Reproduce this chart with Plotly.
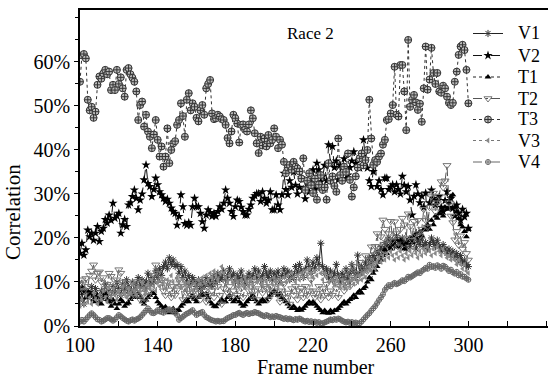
import plotly.graph_objects as go

frames = list(range(100, 301))

T3 = [55.5, 61.5, 61.8, 60.8, 51.4, 49.0, 49.8, 47.3, 48.7, 54.8,
      56.7, 56.2, 57.4, 58.2, 57.2, 57.8, 53.6, 54.8, 53.6, 58.2,
      55.0, 56.5, 54.0, 52.1, 58.2, 58.6, 57.2, 56.4, 55.5, 53.3,
      46.8, 50.2, 51.0, 45.3, 48.0, 44.2, 43.0, 40.4, 43.5, 46.8,
      42.3, 38.5, 40.8, 36.2, 38.5, 44.9, 37.0, 40.0, 41.5, 42.0,
      45.7, 46.8, 50.6, 47.7, 43.0, 51.4, 52.9, 49.0, 50.6, 49.8,
      47.3, 46.5, 49.0, 50.2, 48.0, 54.0, 55.0, 55.9, 48.3, 47.0,
      47.2, 48.0, 47.6, 47.0, 46.8, 45.7, 42.7, 41.5, 44.2, 48.0,
      47.2, 46.0, 41.7, 45.7, 45.8, 44.6, 44.2, 45.8, 49.0, 47.2,
      43.8, 41.5, 39.3, 43.0, 41.0, 42.6, 40.8, 43.4, 41.5, 42.3,
      44.9, 43.0, 40.4, 42.3, 41.2, 37.3, 34.7, 36.0, 36.6, 35.5,
      37.3, 36.2, 35.8, 35.1, 33.5, 38.1, 30.9, 33.0, 34.7, 32.0,
      30.2, 33.5, 28.7, 32.1, 34.3, 30.9, 31.5, 28.7, 37.0, 33.0,
      34.0, 31.8, 30.5, 42.6, 34.3, 33.0, 36.2, 35.0, 39.2, 33.2,
      29.4, 31.5, 34.0, 36.0, 38.1, 39.2, 36.5, 37.7, 40.0, 51.4,
      42.6, 36.6, 37.7, 37.3, 38.5, 39.2, 41.2, 42.3, 46.8, 47.0,
      48.3, 50.2, 58.9, 48.0, 47.6, 59.3, 59.3, 53.3, 44.5, 65.0,
      49.8, 51.4, 52.5, 50.8, 49.1, 50.5, 46.4, 54.0, 63.5, 53.7,
      56.0, 63.2, 57.5, 55.0, 57.5, 53.3, 53.0, 54.6, 54.0, 52.1,
      50.7, 50.2, 50.7, 55.5, 57.8, 61.6, 63.5, 63.9, 62.7, 58.2,
      50.6]

V2 = [16.5, 18.8, 16.1, 17.3, 21.8, 20.3, 21.1, 19.5, 21.1, 22.6,
      19.2, 21.5, 22.2, 24.2, 23.4, 25.2, 24.0, 27.9, 24.5, 25.0,
      25.6, 21.1, 23.0, 24.2, 22.6, 27.5, 28.0, 29.4, 30.9, 29.0,
      26.4, 28.6, 30.0, 33.2, 36.6, 32.4, 31.7, 29.4, 31.0, 33.6,
      32.1, 30.5, 29.8, 29.0, 28.3, 28.8, 27.9, 26.8, 26.0, 25.6,
      22.9, 24.9, 29.8, 27.1, 23.3, 22.9, 23.5, 22.9, 27.1, 29.0,
      27.1, 27.1, 25.6, 23.7, 22.2, 25.2, 26.4, 25.8, 24.9, 25.6,
      24.9, 26.0, 27.1, 26.5, 27.9, 30.9, 29.0, 27.9, 26.0, 24.9,
      27.1, 28.6, 28.3, 27.0, 26.0, 25.2, 25.2, 26.5, 27.5, 29.0,
      29.6, 30.1, 30.1, 28.3, 30.5, 29.0, 27.9, 28.6, 30.5, 26.4,
      26.4, 29.8, 27.5, 26.4, 29.8, 34.7, 31.0, 29.8, 33.0, 31.5,
      35.0, 32.0, 30.0, 31.5, 33.6, 31.0, 28.9, 32.5, 30.5, 33.0,
      35.5, 31.0, 37.0, 35.5, 32.8, 34.0, 36.5, 33.0, 41.2, 37.0,
      40.8, 36.0, 37.5, 33.2, 36.5, 35.9, 38.0, 33.5, 34.3, 36.0,
      37.5, 39.6, 37.0, 36.0, 35.9, 38.5, 42.3, 38.0, 35.9, 33.0,
      31.7, 35.1, 37.0, 31.7, 33.0, 31.0, 29.8, 33.6, 33.6, 31.0,
      31.6, 32.1, 30.5, 32.1, 31.0, 30.0, 34.0, 32.0, 30.5, 31.7,
      28.6, 25.2, 29.5, 32.1, 30.0, 28.0, 29.5, 27.0, 30.2, 22.6,
      28.0, 30.9, 29.0, 27.5, 28.5, 29.4, 27.0, 26.0, 28.5, 30.5,
      27.0, 29.0, 26.7, 25.0, 27.5, 25.6, 24.0, 26.5, 24.8, 25.6,
      22.2]

T2 = [9.5, 10.5, 8.0, 10.8, 9.0, 11.5, 12.5, 13.9, 10.5, 12.0,
      12.3, 10.0, 11.0, 8.5, 9.5, 12.0, 11.3, 9.0, 7.5, 10.5,
      12.8, 12.0, 10.0, 8.5, 7.0, 9.0, 6.5, 8.0, 7.0, 10.1,
      8.5, 6.0, 7.5, 5.5, 9.0, 7.0, 8.0, 10.0, 11.5, 13.9,
      12.0, 9.5, 10.5, 8.0, 7.0, 10.0, 8.2, 6.5, 9.0, 7.0,
      8.2, 10.5, 9.0, 6.0, 8.5, 7.5, 9.5, 7.0, 6.5, 8.0,
      10.0, 7.5, 6.0, 9.0, 8.0, 5.5, 7.0, 9.5, 8.0, 6.5,
      10.5, 9.0, 7.0, 5.0, 8.5, 10.0, 7.5, 9.0, 6.5, 8.0,
      9.5, 7.0, 10.0, 8.5, 6.5, 9.0, 11.0, 8.0, 7.0, 9.5,
      8.0, 6.0, 8.5, 10.0, 7.5, 9.0, 8.6, 6.0, 9.0, 7.5,
      8.0, 10.5, 7.0, 5.5, 8.0, 9.5, 6.5, 7.5, 5.0, 8.5,
      7.0, 9.0, 6.0, 8.0, 8.6, 6.5, 9.0, 7.0, 8.0, 10.5,
      8.0, 6.5, 7.5, 9.0, 6.0, 8.5, 7.0, 9.5, 6.5, 8.0,
      7.0, 10.0, 8.5, 6.5, 9.0, 11.0, 8.0, 10.0, 12.4, 9.0,
      11.0, 13.5, 10.0, 12.0, 14.5, 11.0, 13.0, 16.0, 12.5, 15.0,
      18.0, 14.0, 18.1, 21.0, 16.5, 20.3, 24.1, 22.0, 18.5, 21.0,
      23.8, 19.5, 23.7, 21.0, 18.0, 22.0, 24.5, 23.0, 20.0, 25.5,
      22.6, 19.5, 23.8, 21.0, 24.0, 20.5, 22.0, 26.5, 24.0, 22.5,
      27.0, 29.4, 30.2, 26.0, 28.0, 29.5, 32.8, 31.5, 33.0, 36.5,
      28.0, 25.0, 23.5, 19.6, 21.5, 18.4, 20.5, 17.5, 19.0, 16.5,
      15.0]

V1 = [6.0, 7.5, 5.0, 8.0, 6.5, 7.0, 9.0, 6.0, 8.5, 7.0,
      5.5, 8.0, 6.5, 9.5, 7.0, 8.0, 6.0, 9.0, 7.5, 10.0,
      8.5, 7.0, 9.5, 8.0, 10.5, 9.0, 7.5, 10.0, 8.0, 9.5,
      11.0, 9.0, 10.5, 8.5, 10.0, 12.0, 9.5, 11.0, 10.0, 12.5,
      11.0, 13.0, 11.5, 13.5, 14.5, 13.0, 15.5, 14.0, 15.0, 13.5,
      14.0, 12.0, 13.5, 11.0, 12.5, 10.0, 11.5, 9.5, 11.0, 10.0,
      9.0, 10.5, 8.5, 10.0, 9.0, 11.0, 9.5, 10.5, 9.0, 11.5,
      10.0, 12.0, 10.5, 11.0, 12.5, 10.5, 11.5, 13.0, 11.0, 12.0,
      10.0, 11.5, 10.5, 12.5, 11.0, 9.5, 11.0, 12.0, 10.5, 11.5,
      13.0, 11.0, 12.5, 10.5, 11.5, 13.5, 12.0, 11.0, 12.5, 10.5,
      12.0, 11.0, 12.5, 10.0, 11.5, 13.0, 11.5, 12.5, 10.5, 12.0,
      11.0, 13.5, 12.0, 14.0, 12.5, 11.0, 13.0, 15.0, 13.5, 12.0,
      14.5, 13.0, 15.5, 14.0, 18.8, 13.5, 12.0, 13.0, 11.0, 12.5,
      10.5, 12.0, 14.0, 11.5, 10.0, 12.0, 11.0, 13.0, 10.5, 12.0,
      14.0, 12.5, 11.0, 16.1, 12.0, 13.5, 12.5, 14.5, 13.0, 15.5,
      14.0, 16.0, 15.0, 17.0, 16.0, 18.0, 17.0, 19.0, 18.0, 20.0,
      18.5, 19.5, 18.0, 20.5, 19.0, 18.0, 20.0, 19.0, 17.5, 19.5,
      18.0, 20.0, 19.0, 17.5, 19.5, 18.5, 20.0, 18.0, 19.0, 17.5,
      18.5, 20.0, 19.0, 18.0, 19.5, 18.0, 17.0, 18.5, 17.5, 16.5,
      17.5, 16.0, 17.0, 15.5, 16.5, 15.0, 16.0, 14.5, 15.0, 14.0,
      13.5]

T1 = [8.0, 8.9, 7.5, 6.5, 8.0, 7.0, 7.4, 6.0, 5.5, 7.0,
      6.5, 5.0, 6.5, 7.4, 6.0, 5.5, 4.5, 5.9, 5.0, 4.0,
      5.0, 6.0, 5.5, 4.5, 5.0, 5.2, 6.0, 6.5, 7.0, 6.5,
      7.4, 6.5, 5.5, 5.0, 5.9, 6.5, 7.0, 7.5, 7.4, 6.5,
      5.5, 5.0, 4.5, 4.0, 4.4, 3.5, 3.0, 3.5, 4.0, 3.0,
      3.5, 3.6, 4.5, 5.0, 5.5, 6.0, 5.5, 6.5, 7.0, 6.0,
      5.5, 6.5, 7.0, 7.5, 7.0, 7.4, 6.5, 5.5, 5.0, 4.5,
      4.4, 5.0, 5.5, 6.0, 5.5, 5.5, 6.5, 7.0, 6.0, 5.5,
      5.9, 6.5, 5.5, 5.0, 4.5, 4.8, 5.5, 6.0, 6.5, 7.0,
      6.0, 5.5, 5.0, 5.5, 6.0, 5.5, 5.9, 6.5, 7.0, 7.5,
      8.0, 7.5, 7.0, 7.4, 6.5, 6.0, 5.5, 5.0, 4.4, 4.0,
      4.5, 4.0, 3.5, 4.0, 3.6, 4.0, 4.5, 5.0, 5.5, 5.0,
      5.5, 5.0, 4.5, 4.0, 3.5, 3.0, 3.5, 3.0, 2.9, 3.5,
      3.0, 3.5, 3.6, 4.0, 4.5, 5.0, 5.5, 5.0, 5.5, 6.0,
      6.3, 7.0, 6.5, 7.5, 8.0, 7.5, 8.5, 8.9, 10.0, 11.0,
      10.5, 12.0, 12.7, 13.5, 14.5, 15.0, 16.0, 17.3, 16.5, 18.0,
      17.5, 19.0, 18.5, 19.6, 18.0, 19.5, 18.5, 17.5, 18.8, 19.5,
      20.0, 19.0, 20.5, 21.0, 20.0, 21.5, 20.5, 22.0, 21.8, 23.0,
      22.0, 24.0, 23.0, 25.0, 24.5, 25.5, 26.1, 25.0, 27.0, 26.5,
      28.0, 29.4, 29.8, 27.0, 26.0, 24.5, 23.0, 22.5, 21.5, 20.3,
      22.0]

V3 = [4.5, 6.0, 5.0, 7.0, 5.5, 6.5, 5.0, 7.5, 6.0, 5.0,
      7.0, 6.0, 8.0, 6.5, 5.5, 7.5, 6.5, 8.5, 7.0, 6.0,
      8.0, 7.0, 9.0, 7.5, 6.5, 8.5, 7.5, 9.5, 8.0, 7.0,
      9.0, 8.0, 10.0, 8.5, 7.5, 9.5, 8.5, 10.5, 9.0, 8.0,
      10.0, 9.0, 11.0, 9.5, 8.5, 10.5, 9.5, 11.5, 10.0, 9.0,
      11.0, 10.0, 9.0, 10.5, 9.5, 8.5, 10.0, 9.0, 8.0, 9.5,
      8.5, 10.5, 9.5, 11.0, 10.0, 11.5, 10.5, 12.0, 11.0, 12.5,
      11.5, 10.5, 12.0, 13.5, 12.0, 11.0, 10.0, 11.5, 10.5, 9.5,
      11.0, 10.0, 9.0, 10.5, 9.5, 11.0, 10.0, 9.0, 10.5, 9.5,
      11.0, 10.0, 11.5, 10.5, 9.5, 11.0, 10.0, 9.0, 10.5, 9.5,
      11.0, 10.0, 9.0, 10.5, 9.5, 11.0, 10.0, 11.5, 10.5, 12.0,
      11.0, 10.0, 11.5, 10.5, 12.0, 11.0, 12.5, 11.5, 13.0, 12.0,
      11.0, 12.5, 11.5, 13.0, 12.0, 10.5, 12.0, 11.0, 10.0, 11.5,
      10.5, 9.5, 11.0, 10.0, 9.0, 10.5, 9.5, 8.5, 10.0, 9.0,
      10.5, 9.5, 11.0, 10.0, 11.5, 10.5, 12.0, 11.0, 12.5, 13.5,
      12.5, 14.0, 13.0, 14.5, 15.5, 14.5, 16.0, 15.0, 16.5, 15.5,
      17.0, 16.0, 15.0, 16.5, 15.5, 17.0, 16.0, 15.0, 16.5, 15.5,
      17.0, 16.0, 17.5, 16.5, 15.5, 17.0, 16.0, 17.5, 16.5, 18.0,
      17.0, 16.0, 17.5, 16.5, 18.0, 17.0, 16.0, 17.5, 16.5, 15.5,
      16.0, 15.0, 16.0, 15.0, 14.0, 15.0, 14.0, 13.0, 14.0, 12.5,
      12.0]

V4 = [1.0, 1.4, 1.0, 1.5, 2.0, 2.5, 2.9, 2.5, 2.0, 1.5,
      1.4, 1.0, 1.2, 1.5, 1.8, 1.8, 1.5, 1.2, 1.5, 2.0,
      2.5, 2.2, 1.8, 1.5, 1.2, 1.0, 1.3, 1.5, 1.2, 1.5,
      1.7, 2.0, 2.5, 3.0, 3.5, 4.0, 3.5, 3.0, 2.9, 3.2,
      3.6, 3.3, 3.2, 3.0, 3.4, 3.6, 3.8, 3.5, 3.6, 3.0,
      2.5, 1.4, 1.8, 2.1, 2.5, 2.8, 3.0, 3.3, 3.6, 3.0,
      2.5, 2.8, 3.0, 3.2, 2.5, 2.0, 1.8, 1.5, 1.3, 1.2,
      1.0, 1.2, 1.0, 1.1, 1.1, 1.5, 1.8, 2.0, 2.2, 2.5,
      2.5, 2.8, 3.0, 2.7, 2.5, 2.8, 3.0, 2.7, 2.9, 2.9,
      3.2, 3.0, 2.9, 2.6, 2.4, 2.2, 2.5, 2.3, 2.0, 2.2,
      2.0, 2.3, 2.1, 2.0, 1.8, 1.6, 1.8, 1.5, 1.7, 1.5,
      1.3, 1.6, 1.4, 1.7, 1.5, 1.2, 1.0, 1.2, 0.9, 1.1,
      0.8, 1.0, 0.7, 0.9, 0.6, 0.6, 0.8, 1.0, 1.2, 1.5,
      1.3, 1.6, 1.4, 1.7, 1.5, 1.2, 1.0, 0.8, 1.0, 0.7,
      0.9, 0.6, 0.8, 0.6, 0.6, 1.0, 1.5, 2.0, 2.5, 2.9,
      3.5, 4.0, 4.5, 5.2, 5.9, 6.5, 7.2, 8.2, 8.8, 9.3,
      9.0, 9.5, 9.8, 9.5, 9.7, 10.0, 10.4, 10.2, 10.6, 11.2,
      11.0, 11.3, 11.6, 11.9, 12.2, 12.0, 12.5, 12.8, 13.2, 13.0,
      13.9, 13.4, 13.6, 13.2, 13.8, 13.5, 13.0, 13.7, 13.5, 13.0,
      12.5, 12.8, 12.2, 11.9, 12.3, 11.5, 11.8, 11.2, 11.2, 10.8,
      10.5]

series_names = ["V1", "V2", "T1", "T2", "T3", "V3", "V4"]
x_labels = [100, 140, 180, 220, 260, 300]
y_labels = [0, 10, 20, 30, 40, 50, 60]
y_label_text = [f"{v}%" for v in y_labels]

FONT = "Liberation Serif, Times New Roman, serif"

styles = {
    "V1": (dict(symbol="asterisk-open", size=6, color="#333", line=dict(color="#333", width=1)), dict(color="#222", width=1, dash="solid")),
    "V2": (dict(symbol="star", size=7, color="black", line=dict(width=0)), dict(color="#111", width=1, dash="dash")),
    "T1": (dict(symbol="triangle-up", size=6, color="black", line=dict(width=0)), dict(color="#222", width=1, dash="dot")),
    "T2": (dict(symbol="triangle-down-open", size=7, color="#777", line=dict(color="#777", width=1)), dict(color="#555", width=1, dash="dashdot")),
    "T3": (dict(symbol="circle-cross", size=7, color="#bbb", line=dict(color="#333", width=1)), dict(color="#333", width=1, dash="dot")),
    "V3": (dict(symbol="triangle-left", size=5, color="#888", line=dict(width=0)), dict(color="#777", width=1, dash="dot")),
    "V4": (dict(symbol="circle-cross-open", size=5, color="#666", line=dict(color="#666", width=1)), dict(color="#666", width=1, dash="dash")),
}
data = {"V1": V1, "V2": V2, "T1": T1, "T2": T2, "T3": T3, "V3": V3, "V4": V4}

fig = go.Figure()
for name in series_names:
    mk, ln = styles[name]
    fig.add_trace(go.Scatter(x=frames, y=data[name], name=name, mode="lines+markers",
                             marker=mk, line=ln, showlegend=False))

# manual legend on an overlay axis spanning the plot area (0..1 both ways)
leg_y_px = [33.5, 55.5, 77, 98.5, 119.5, 140.5, 162]
plot_top, plot_bottom, plot_left, plot_w = 10, 326, 80, 468
x0 = (473 - plot_left) / plot_w
x1 = (503 - plot_left) / plot_w
xm = (x0 + x1) / 2
xt = (516 - plot_left) / plot_w
annotations = []
for name, yp in zip(series_names, leg_y_px):
    mk, ln = styles[name]
    yy = (plot_bottom - yp) / (plot_bottom - plot_top)
    fig.add_trace(go.Scatter(x=[x0, x1], y=[yy, yy], mode="lines", line=ln,
                             xaxis="x2", yaxis="y2", showlegend=False, hoverinfo="skip"))
    fig.add_trace(go.Scatter(x=[xm], y=[yy], mode="markers", marker=mk,
                             xaxis="x2", yaxis="y2", showlegend=False, hoverinfo="skip"))
    annotations.append(dict(text=name, x=xt, y=yy, xref="paper", yref="paper",
                            xanchor="left", yanchor="middle", showarrow=False,
                            font=dict(family=FONT, size=18, color="black")))

annotations.append(dict(text="Race 2", x=(310 - 80) / 468, y=(326 - 34) / 316,
                        xref="paper", yref="paper", xanchor="center", yanchor="middle",
                        showarrow=False, font=dict(family=FONT, size=17, color="black")))
annotations.append(dict(text="Frame number", x=(316 - 80) / 468, y=(326 - 367) / 316,
                        xref="paper", yref="paper", xanchor="center", yanchor="middle",
                        showarrow=False, font=dict(family=FONT, size=20, color="black")))
annotations.append(dict(text="Correlation", x=(13 - 80) / 468, y=(326 - 212) / 316,
                        xref="paper", yref="paper", xanchor="center", yanchor="middle",
                        textangle=-90, showarrow=False,
                        font=dict(family=FONT, size=21, color="black")))

fig.update_layout(
    width=548, height=379,
    margin=dict(l=80, r=0, t=10, b=53, autoexpand=False),
    paper_bgcolor="white", plot_bgcolor="white",
    font=dict(family=FONT, size=20, color="black"),
    showlegend=False,
    annotations=annotations,
    xaxis2=dict(overlaying="x", range=[0, 1], visible=False, fixedrange=True),
    yaxis2=dict(overlaying="y", range=[0, 1], visible=False, fixedrange=True),
)
fig.layout.xaxis.update(range=[100, 341], tickvals=x_labels, ticks="inside", ticklen=5,
                        tickcolor="black", showline=True, linecolor="black", linewidth=1.5,
                        mirror=True, showgrid=False, zeroline=False, automargin=False,
                        minor=dict(dtick=20, tick0=100, ticks="inside", ticklen=5, tickcolor="black"),
                        tickfont=dict(family=FONT, size=20))
fig.layout.yaxis.update(range=[0, 71.8], tickvals=y_labels, ticktext=y_label_text,
                        ticks="outside", ticklen=4, tickcolor="black", showline=True,
                        linecolor="black", linewidth=1.5, showgrid=False, zeroline=False,
                        automargin=False,
                        minor=dict(dtick=5, ticks="outside", ticklen=3, tickcolor="black"),
                        tickfont=dict(family=FONT, size=20))

fig.write_html("out.html", config={"displayModeBar": False},
               post_script="document.body.style.margin='0px';document.body.style.overflow='hidden';")
